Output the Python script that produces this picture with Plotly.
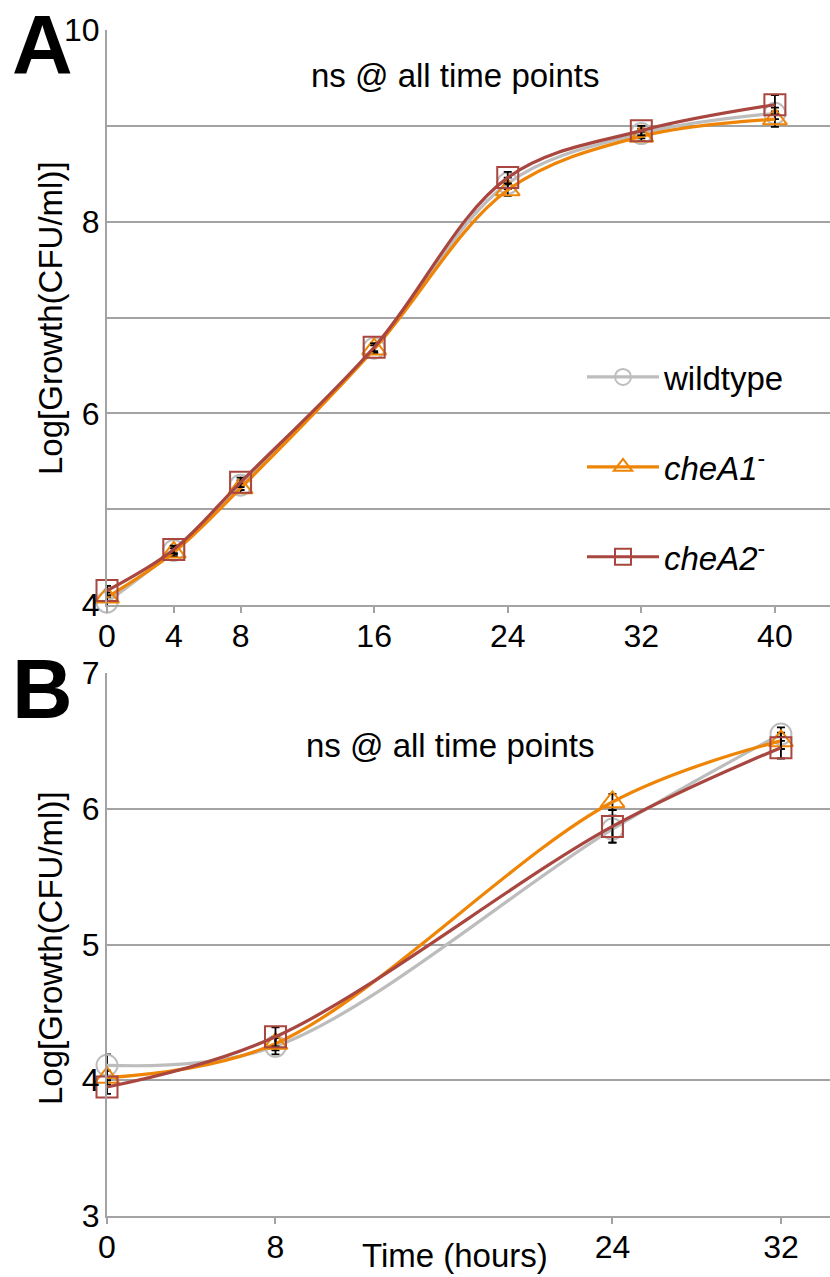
import plotly.graph_objects as go

# ---------------- data ----------------
time_a = [0, 4, 8, 16, 24, 32, 40]
wt_a = [4.03, 4.57, 5.25, 6.68, 8.40, 8.92, 9.13]
wt_a_err = [0.05, 0.04, 0.05, 0.05, 0.06, 0.05, 0.06]
chea1_a = [4.08, 4.55, 5.22, 6.67, 8.33, 8.89, 9.07]
chea1_a_err = [0.05, 0.04, 0.05, 0.04, 0.06, 0.05, 0.08]
chea2_a = [4.15, 4.58, 5.28, 6.69, 8.46, 8.95, 9.22]
chea2_a_err = [0.05, 0.04, 0.05, 0.04, 0.06, 0.05, 0.10]

time_b = [0, 8, 24, 32]
wt_b = [4.11, 4.25, 5.85, 6.55]
wt_b_err = [0.08, 0.06, 0.10, 0.05]
chea1_b = [4.02, 4.27, 6.05, 6.50]
chea1_b_err = [0.05, 0.05, 0.06, 0.06]
chea2_b = [3.95, 4.32, 5.87, 6.45]
chea2_b_err = [0.05, 0.07, 0.12, 0.08]

xticks_a = [0, 4, 8, 16, 24, 32, 40]
xticks_b = [0, 8, 24, 32]
yticks_a = [4, 5, 6, 7, 8, 9, 10]
ylabels_a = ["4", "", "6", "", "8", "", "10"]
yticks_b = [3, 4, 5, 6, 7]

names = ["wildtype", "<i>cheA1</i><sup>-</sup>", "<i>cheA2</i><sup>-</sup>"]
colors = ["#BDBDBD", "#EE8506", "#A8463F"]
symbols = ["circle-open", "triangle-up-open", "square-open"]

W, H = 830, 1277
FONT = "Liberation Sans, Arial, sans-serif"
GRID = "#A3A3A3"
TXT = 33

fig = go.Figure()

def add_series(x, ys, errs, xa, ya, show):
    for i, (y, e) in enumerate(zip(ys, errs)):
        fig.add_trace(go.Scatter(
            x=x, y=y, mode="lines+markers", name=names[i],
            line=dict(color=colors[i], width=3.2, shape="spline", smoothing=1.0),
            marker=dict(symbol=symbols[i], size=21, color=colors[i],
                        line=dict(width=2, color=colors[i])),
            error_y=dict(type="data", array=e, color="black", thickness=1.8, width=4),
            xaxis=xa, yaxis=ya, showlegend=show, legendgroup=f"g{i}",
            cliponaxis=False,
        ))

add_series(time_a, [wt_a, chea1_a, chea2_a], [wt_a_err, chea1_a_err, chea2_a_err], "x", "y", True)
add_series(time_b, [wt_b, chea1_b, chea2_b], [wt_b_err, chea1_b_err, chea2_b_err], "x2", "y2", False)

x0 = 107 / W

def py(p):
    return 1 - p / H

axis_common = dict(showline=True, linecolor=GRID, linewidth=2, zeroline=False,
                   automargin=False,
                   tickfont=dict(family=FONT, size=32, color="black"))

fig.update_layout(
    width=W, height=H,
    margin=dict(l=0, r=0, t=0, b=0, autoexpand=False),
    paper_bgcolor="white", plot_bgcolor="white",
    font=dict(family=FONT, color="black"),
    xaxis=dict(domain=[x0, 1], anchor="y", range=[0, 43.3], tickvals=xticks_a,
               ticks="outside", ticklen=6, tickwidth=2, tickcolor=GRID, showgrid=False,
               ticklabelstandoff=-4, **axis_common),
    yaxis=dict(domain=[py(605), py(30)], anchor="x", range=[4, 10], tickvals=yticks_a,
               ticktext=ylabels_a, showgrid=True, gridcolor=GRID, gridwidth=2,
               ticks="", ticklabelstandoff=-1, **axis_common),
    xaxis2=dict(domain=[x0, 1], anchor="y2", range=[0, 34.33], tickvals=xticks_b,
                ticks="outside", ticklen=6, tickwidth=2, tickcolor=GRID, showgrid=False,
                ticklabelstandoff=-4, **axis_common),
    yaxis2=dict(domain=[py(1216), py(673)], anchor="x2", range=[3, 7], tickvals=yticks_b,
                showgrid=True, gridcolor=GRID, gridwidth=2, ticks="", ticklabelstandoff=-1,
                **axis_common),
    legend=dict(x=582 / W, y=py(349), xanchor="left", yanchor="top",
                font=dict(family=FONT, size=TXT, color="black"),
                bgcolor="rgba(0,0,0,0)", tracegroupgap=44, itemwidth=72),
)

ann = [
    dict(text="A", x=42 / W, y=py(45), font=dict(size=84, family=FONT, color="black", weight="bold")),
    dict(text="B", x=42 / W, y=py(689), font=dict(size=84, family=FONT, color="black", weight="bold")),
    dict(text="ns @ all time points", x=455 / W, y=py(76), font=dict(size=TXT, family=FONT, color="black")),
    dict(text="ns @ all time points", x=450 / W, y=py(745), font=dict(size=TXT, family=FONT, color="black")),
    dict(text="Log[Growth(CFU/ml)]", x=50 / W, y=py(318), textangle=-90, font=dict(size=TXT, family=FONT, color="black")),
    dict(text="Log[Growth(CFU/ml)]", x=50 / W, y=py(948), textangle=-90, font=dict(size=TXT, family=FONT, color="black")),
    dict(text="Time (hours)", x=455 / W, y=py(1255), font=dict(size=TXT, family=FONT, color="black")),
]
for a in ann:
    fig.add_annotation(xref="paper", yref="paper", showarrow=False,
                       xanchor="center", yanchor="middle", **a)

fig.write_html("out.html", config={"displayModeBar": False},
               post_script="document.body.style.margin='0';document.body.style.overflow='hidden';")
